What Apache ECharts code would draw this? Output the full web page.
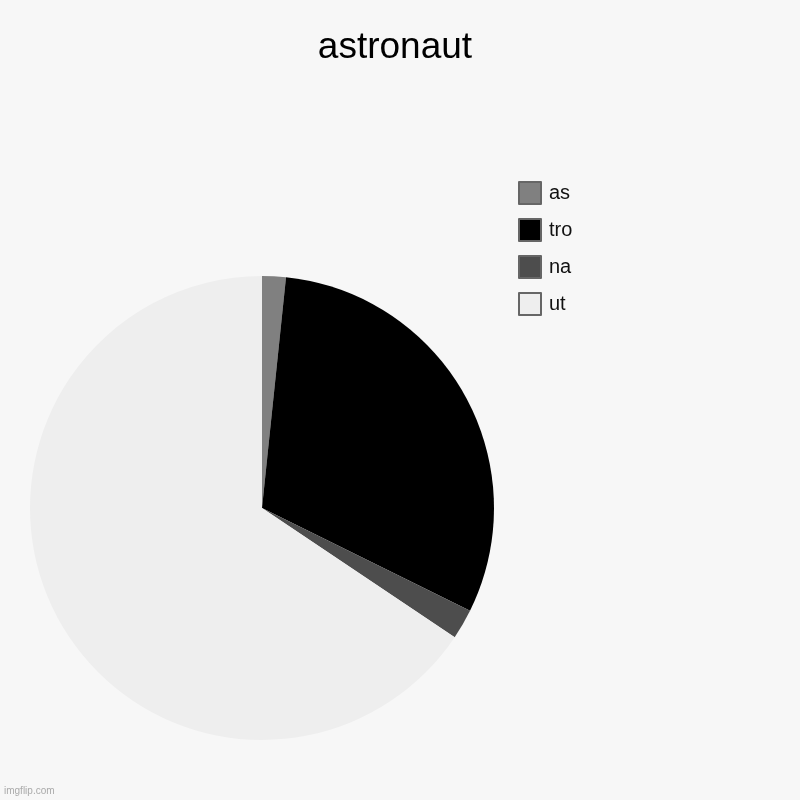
<!DOCTYPE html>
<html>
<head>
<meta charset="utf-8">
<script src="https://cdn.jsdelivr.net/npm/echarts@6/dist/echarts.min.js"></script>
<style>html,body{margin:0;padding:0;background:#f7f7f7;}#c{width:800px;height:800px;}</style>
</head>
<body>
<div id="c"></div>
<script>
const categories = ['as', 'tro', 'na', 'ut'];
const values = [1.65, 30.65, 2.1, 65.6];
const colors = ['#808080', '#000000', '#4d4d4d', '#eeeeee'];
const titleText = 'astronaut';

const chart = echarts.init(document.getElementById('c'), null, {renderer: 'canvas'});
chart.setOption({
  backgroundColor: '#f7f7f7',
  animation: false,
  legend: {
    orient: 'vertical', left: 513, top: 176,
    itemWidth: 22, itemHeight: 22, itemGap: 13,
    icon: 'rect',
    itemStyle: {borderColor: '#666666', borderWidth: 2},
    textStyle: {fontFamily: 'Liberation Sans, Arial, sans-serif', fontSize: 20, color: '#111', padding: [0,0,0,3]},
    data: categories
  },
  graphic: [{
    type: 'text', x: 395, y: 29,
    style: {text: titleText, fill: '#000', font: '37px Liberation Sans, Arial, sans-serif', textAlign: 'center', verticalAlign: 'top'}
  }, {
    type: 'text', x: 4, y: 786,
    style: {text: 'imgflip.com', fill: '#aaa', font: '10px Liberation Sans, Arial, sans-serif', verticalAlign: 'top'}
  }],
  series: [{
    type: 'pie',
    center: [262, 508],
    radius: 232,
    startAngle: 90,
    clockwise: true,
    label: {show: false},
    labelLine: {show: false},
    emphasis: {disabled: true},
    itemStyle: {borderWidth: 0},
    data: categories.map((c, i) => ({name: c, value: values[i], itemStyle: {color: colors[i]}}))
  }]
});
</script>
</body>
</html>
